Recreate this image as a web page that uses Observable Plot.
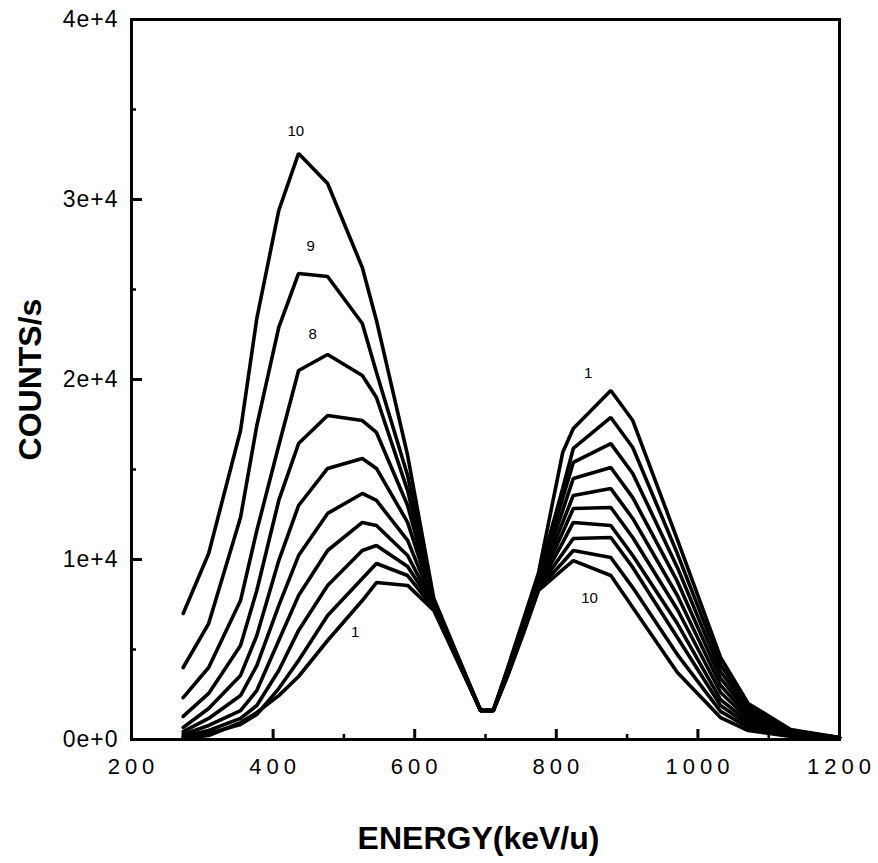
<!DOCTYPE html>
<html><head><meta charset="utf-8">
<script src="https://cdn.jsdelivr.net/npm/d3@7"></script>
<script src="https://cdn.jsdelivr.net/npm/@observablehq/plot@0.6"></script>
<style>
body{margin:0;background:#fff;}
#chart svg{display:block}
g[aria-label="x-axis tick label"] text{letter-spacing:5px}
g[aria-label="y-axis tick label"] text{letter-spacing:1px}
</style>
</head><body><div id="chart"></div>
<script>
// Energy sample points (keV/u)
const energy = [273, 309, 354, 377, 408, 436, 477, 526, 546, 590, 627, 693, 711, 731, 754, 775, 809, 824, 877, 908, 971, 1032, 1071, 1131, 1200];
// Counts/s for each curve (1 .. 10)
const curve1  = [60, 220, 940, 1500, 2440, 3500, 5500, 7720, 8720, 8560, 7170, 1610, 1610, 3940, 6720, 9280, 15940, 17280, 19390, 17720, 11110, 4560, 2000, 560, 110];
const curve2  = [110, 330, 830, 1390, 2830, 4390, 6890, 8940, 9780, 9110, 7280, 1610, 1610, 3890, 6610, 9110, 13940, 16170, 17890, 16220, 10330, 4170, 1830, 500, 110];
const curve3  = [170, 500, 1170, 1890, 3830, 6060, 8560, 10500, 10780, 9610, 7390, 1610, 1610, 3830, 6500, 9000, 13390, 15390, 16440, 14780, 9560, 3780, 1670, 440, 110];
const curve4  = [280, 780, 1610, 2720, 5500, 8000, 10500, 12060, 11890, 10220, 7440, 1610, 1610, 3780, 6390, 8830, 12720, 14500, 15110, 13440, 8780, 3390, 1500, 390, 110];
const curve5  = [440, 1170, 2440, 4110, 7440, 10220, 12560, 13670, 13280, 11060, 7500, 1610, 1610, 3720, 6280, 8720, 12060, 13560, 13940, 12280, 8000, 3000, 1330, 330, 110];
const curve6  = [670, 1720, 3560, 5780, 9940, 13000, 15060, 15610, 15060, 12060, 7560, 1610, 1610, 3670, 6220, 8610, 11500, 12830, 12890, 11220, 7220, 2610, 1170, 280, 110];
const curve7  = [1280, 2560, 5220, 8280, 13280, 16440, 18000, 17720, 17060, 13000, 7610, 1610, 1610, 3610, 6170, 8500, 10940, 12060, 11890, 10220, 6440, 2220, 1000, 280, 110];
const curve8  = [2330, 4000, 7720, 11610, 16330, 20500, 21390, 20220, 19000, 13830, 7670, 1610, 1610, 3560, 6110, 8440, 10330, 11170, 11220, 9560, 5670, 1890, 830, 220, 110];
const curve9  = [4000, 6440, 12330, 17440, 22890, 25890, 25720, 23110, 20390, 14670, 7720, 1610, 1610, 3560, 6060, 8390, 9830, 10500, 10110, 8440, 4720, 1560, 670, 220, 110];
const curve10 = [7000, 10330, 17170, 23390, 29390, 32560, 30890, 26220, 23280, 15780, 7830, 1610, 1610, 3500, 5940, 8280, 9440, 9940, 9110, 7330, 3720, 1220, 500, 170, 60];
const curveNames = ["1", "2", "3", "4", "5", "6", "7", "8", "9", "10"];

// Curve annotations
const labelText = ["10", "9", "8", "1", "1", "10"];
const labelEnergy = [432, 453, 456, 516, 845, 847];
const labelCounts = [33800, 27400, 22500, 5950, 20350, 7850];

// Axis ticks
const xTickLabels = [200, 400, 600, 800, 1000, 1200];
const xMajorTicks = [400, 600, 800, 1000];
const xMinorTicks = [300, 500, 700, 900, 1100];
const yTickLabels = [0, 10000, 20000, 30000, 40000];
const yMajorTicks = [10000, 20000, 30000];
const yMinorTicks = [5000, 15000, 25000, 35000];

const series = [curve1, curve2, curve3, curve4, curve5, curve6, curve7, curve8, curve9, curve10];
const data = series.flatMap((vals, i) => vals.map((c, j) => ({energy: energy[j], counts: c, curve: curveNames[i]})));
const labels = labelText.map((t, i) => ({text: t, energy: labelEnergy[i], counts: labelCounts[i]}));

const W = 878, H = 863, mL = 131, mR = 39, mT = 19, mB = 124;
const innerW = W - mL - mR, innerH = H - mT - mB;

const chart = Plot.plot({
  width: W, height: H,
  marginLeft: mL, marginRight: mR, marginTop: mT, marginBottom: mB,
  style: {fontFamily: "'Liberation Sans', Arial, Helvetica, sans-serif", fontSize: "22px", color: "black", background: "white", overflow: "visible"},
  x: {domain: [200, 1200]},
  y: {domain: [0, 40000]},
  marks: [
    Plot.ruleX(xMajorTicks, {insetTop: innerH - 10, stroke: "black", strokeWidth: 3}),
    Plot.ruleX(xMinorTicks, {insetTop: innerH - 5, stroke: "black", strokeWidth: 2.5}),
    Plot.ruleY(yMajorTicks, {insetRight: innerW - 11, stroke: "black", strokeWidth: 3}),
    Plot.ruleY(yMinorTicks, {insetRight: innerW - 5, stroke: "black", strokeWidth: 2.5}),
    Plot.axisX(xTickLabels, {tickSize: 0, tickPadding: 19, fontSize: 22, dx: 2, label: null, tickFormat: d => String(d)}),
    Plot.axisY(yTickLabels, {tickSize: 0, tickPadding: 13, fontSize: 23, label: null, tickFormat: d3.format(".0e")}),
    Plot.line(data, {x: "energy", y: "counts", z: "curve", stroke: "black", strokeWidth: 3.6, strokeLinejoin: "miter"}),
    Plot.text(labels, {x: "energy", y: "counts", text: "text", fontSize: 15, fill: "black"}),
    Plot.frame({stroke: "black", strokeWidth: 3}),
    Plot.text(["ENERGY(keV/u)"], {frameAnchor: "bottom", textAnchor: "middle", lineAnchor: "middle", dy: 99, dx: -7, fontSize: 32, fontWeight: "bold", fill: "black"}),
    Plot.text(["COUNTS/s"], {frameAnchor: "left", textAnchor: "middle", lineAnchor: "middle", rotate: -90, dx: -101, fontSize: 32, fontWeight: "bold", fill: "black"})
  ]
});
document.getElementById("chart").append(chart);
</script>
</body></html>
